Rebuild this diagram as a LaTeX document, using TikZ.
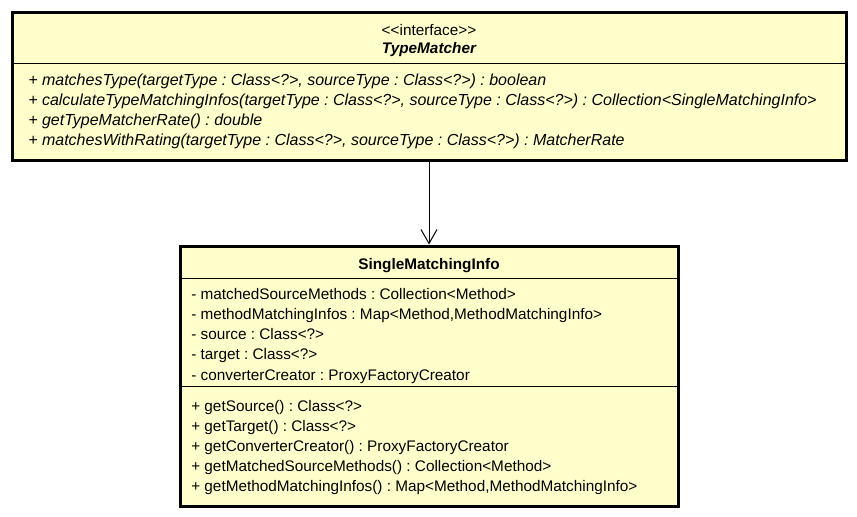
\documentclass[tikz,border=0pt]{standalone}
\usepackage{fontspec}
\setmainfont{Liberation Sans}
\usetikzlibrary{arrows.meta}
\definecolor{umlfill}{HTML}{FFFFCC}
\frenchspacing
\tikzset{
  classbox/.style={draw=black, line width=2.25pt, fill=umlfill, inner sep=0pt},
  member/.style={anchor=base west, inner sep=0pt, font=\fontsize{11.5}{12}\selectfont\frenchspacing},
  imember/.style={anchor=base west, inner sep=0pt, font=\fontsize{12}{13}\selectfont\itshape\frenchspacing},
  centertext/.style={anchor=base, inner sep=0pt, font=\fontsize{11.5}{12}\selectfont},
  sepline/.style={line width=0.75pt},
  assoc/.style={line width=0.75pt, -{Straight Barb[length=10.5pt,width=12pt,line width=0.75pt]}}
}
\begin{document}
\begin{tikzpicture}[x=0.75pt,y=-0.75pt]
\useasboundingbox (0,0) rectangle (857,517);
% TypeMatcher box
\node[classbox, minimum width=834*0.75pt, minimum height=147*0.75pt] (tm) at (429,86.5) {};
\draw[sepline] (13.5,64) -- (844.5,64);
\node[centertext] (tmst) at (429,35.5) {<{}<interface>{}>};
\node[centertext] (tmname) at (429,54) {\bfseries\itshape TypeMatcher};
\node[imember] (m1) at (28,86) {+ matchesType(targetType : Class<?>, sourceType : Class<?>) : boolean};
\node[imember] (m2) at (28,106) {+ calculateTypeMatchingInfos(targetType : Class<?>, sourceType : Class<?>) : Collection<SingleMatchingInfo>};
\node[imember] (m3) at (28,126) {+ getTypeMatcherRate() : double};
\node[imember] (m4) at (28,146) {+ matchesWithRating(targetType : Class<?>, sourceType : Class<?>) : MatcherRate};
% SingleMatchingInfo box
\node[classbox, minimum width=498*0.75pt, minimum height=260*0.75pt] (smi) at (429,376) {};
\draw[sepline] (181.5,278) -- (676.5,278);
\draw[sepline] (181.5,386) -- (676.5,386);
\node[centertext] (sminame) at (429,269) {\bfseries SingleMatchingInfo};
\node[member] (a1) at (191,299) {- matchedSourceMethods : Collection<Method>};
\node[member] (a2) at (191,319) {- methodMatchingInfos : Map<Method,MethodMatchingInfo>};
\node[member] (a3) at (191,339) {- source : Class<?>};
\node[member] (a4) at (191,359) {- target : Class<?>};
\node[member] (a5) at (191,380) {- converterCreator : ProxyFactoryCreator};
\node[member] (o1) at (191,411) {+ getSource() : Class<?>};
\node[member] (o2) at (191,431) {+ getTarget() : Class<?>};
\node[member] (o3) at (191,451) {+ getConverterCreator() : ProxyFactoryCreator};
\node[member] (o4) at (191,471) {+ getMatchedSourceMethods() : Collection<Method>};
\node[member] (o5) at (191,491) {+ getMethodMatchingInfos() : Map<Method,MethodMatchingInfo>};
% association
\draw[assoc] (tm.south) -- (smi.north);
\end{tikzpicture}
\end{document}
